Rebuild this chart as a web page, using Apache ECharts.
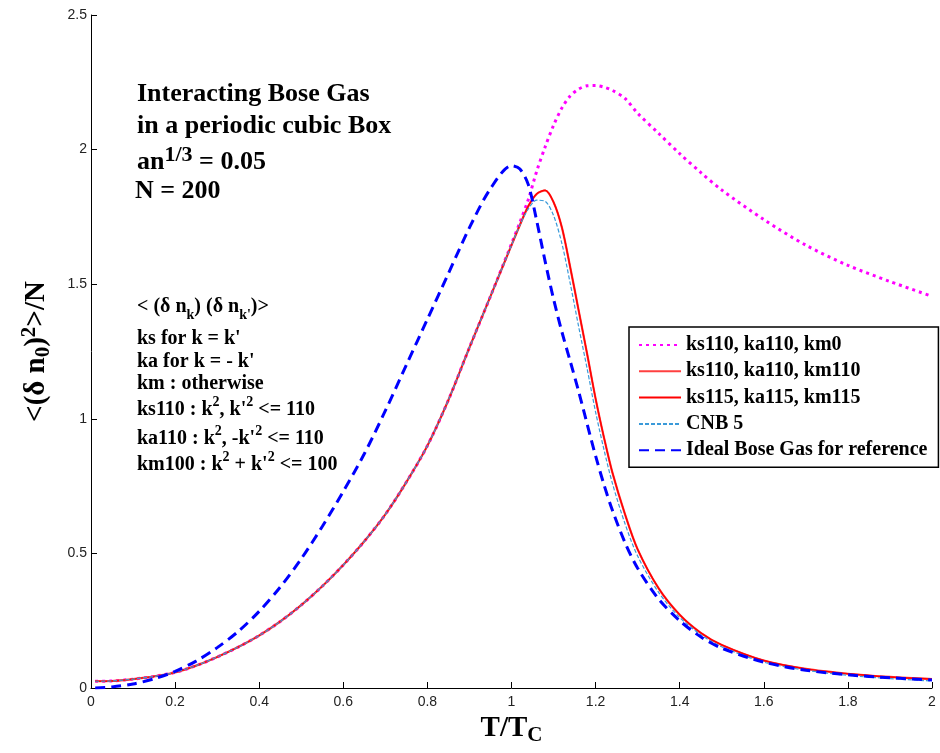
<!DOCTYPE html>
<html>
<head>
<meta charset="utf-8">
<script src="https://cdn.jsdelivr.net/npm/echarts@6/dist/echarts.min.js"></script>
<style>html,body{margin:0;padding:0;background:#fff}#main{width:940px;height:753px}</style>
</head>
<body>
<div id="main"></div>
<script>
// T/Tc sample points shared by all curves
const T = [0.01, 0.05, 0.1, 0.15, 0.2, 0.25, 0.3, 0.35, 0.4, 0.45, 0.5, 0.55, 0.6, 0.65, 0.7, 0.75, 0.8, 0.85, 0.9, 0.95,
  1.0, 1.02, 1.04, 1.06, 1.08, 1.1, 1.12, 1.14, 1.16, 1.18, 1.2, 1.22, 1.24, 1.27, 1.3, 1.35, 1.4, 1.45, 1.5, 1.6, 1.7, 1.8, 1.9, 2.0];

const km0 = [0.025, 0.026, 0.033, 0.043, 0.058, 0.083, 0.115, 0.152, 0.195, 0.247, 0.308, 0.378, 0.457, 0.545, 0.645, 0.765, 0.9, 1.07, 1.265, 1.455,
  1.65, 1.73, 1.815, 1.92, 2.01, 2.09, 2.155, 2.2, 2.225, 2.237, 2.238, 2.232, 2.22, 2.19, 2.135, 2.06, 1.985, 1.915, 1.85, 1.74, 1.645, 1.57, 1.51, 1.455];

const km110 = [0.025, 0.026, 0.033, 0.043, 0.058, 0.083, 0.115, 0.152, 0.195, 0.247, 0.308, 0.378, 0.457, 0.545, 0.645, 0.765, 0.9, 1.07, 1.265, 1.455,
  1.645, 1.72, 1.79, 1.835, 1.848, 1.805, 1.71, 1.56, 1.4, 1.24, 1.075, 0.93, 0.8, 0.645, 0.515, 0.37, 0.272, 0.205, 0.16, 0.102, 0.071, 0.053, 0.041, 0.033];

const km115 = [0.025, 0.026, 0.033, 0.043, 0.058, 0.083, 0.115, 0.152, 0.195, 0.247, 0.308, 0.378, 0.457, 0.545, 0.645, 0.765, 0.9, 1.07, 1.265, 1.455,
  1.645, 1.72, 1.79, 1.836, 1.849, 1.805, 1.71, 1.56, 1.4, 1.24, 1.075, 0.93, 0.8, 0.645, 0.515, 0.37, 0.272, 0.205, 0.16, 0.102, 0.071, 0.053, 0.041, 0.033];

const cnb5 = [0.025, 0.026, 0.033, 0.043, 0.058, 0.083, 0.115, 0.152, 0.195, 0.247, 0.308, 0.378, 0.457, 0.545, 0.645, 0.765, 0.9, 1.07, 1.265, 1.455,
  1.645, 1.72, 1.78, 1.812, 1.808, 1.755, 1.65, 1.5, 1.34, 1.185, 1.025, 0.885, 0.76, 0.61, 0.49, 0.355, 0.262, 0.198, 0.153, 0.096, 0.066, 0.047, 0.035, 0.026];

const ideal = [0.0, 0.004, 0.015, 0.034, 0.062, 0.1, 0.15, 0.21, 0.285, 0.375, 0.48, 0.6, 0.73, 0.87, 1.03, 1.2, 1.37, 1.54, 1.71, 1.855,
  1.94, 1.928, 1.87, 1.735, 1.585, 1.445, 1.322, 1.212, 1.1, 0.98, 0.862, 0.755, 0.66, 0.54, 0.445, 0.33, 0.25, 0.19, 0.148, 0.096, 0.066, 0.049, 0.038, 0.03];

const xTicks = [0, 0.2, 0.4, 0.6, 0.8, 1, 1.2, 1.4, 1.6, 1.8, 2];
const yTicks = [0, 0.5, 1, 1.5, 2, 2.5];

const serif = "'Liberation Serif', 'Times New Roman', serif";
const pairs = (ys) => T.map((t, i) => [t, ys[i]]);

let chartDom = document.getElementById('main');
let myChart = echarts.init(chartDom);

// bold serif annotation, y is the centre of the line
function note(text, x, y, size, supScale) {
  let small = Math.round(size * (supScale || 0.68));
  return {
    type: 'text', x: x, y: y,
    style: {
      text: text, fontFamily: serif, fontWeight: 'bold', fontSize: size, fill: '#000',
      align: 'left', verticalAlign: 'middle',
      rich: {
        b: {fontFamily: serif, fontWeight: 'bold', fontSize: size, lineHeight: size + 10, verticalAlign: 'middle'},
        sup: {fontFamily: serif, fontWeight: 'bold', fontSize: small, lineHeight: small, verticalAlign: 'top'},
        sub: {fontFamily: serif, fontWeight: 'bold', fontSize: small, lineHeight: small, verticalAlign: 'bottom'}
      }
    }
  };
}

let option = {
  animation: false,
  backgroundColor: '#fff',
  grid: {left: 91, right: 8, top: 15, bottom: 65},
  legend: {
    orient: 'vertical', left: 629, top: 327,
    padding: [8, 11, 7, 9], itemGap: 6.3, itemWidth: 42, itemHeight: 14,
    backgroundColor: '#fff', borderColor: '#000', borderWidth: 1.5, borderRadius: 0,
    itemStyle: {opacity: 0},
    textStyle: {fontFamily: serif, fontWeight: 'bold', fontSize: 20, lineHeight: 20, color: '#000'}
  },
  xAxis: {
    type: 'value', min: 0, max: 2, interval: 0.2,
    name: 'T/T{c|C}', nameLocation: 'middle', nameGap: 20,
    nameTextStyle: {fontFamily: serif, fontWeight: 'bold', fontSize: 29, color: '#000',
      rich: {c: {fontFamily: serif, fontWeight: 'bold', fontSize: 21, verticalAlign: 'bottom', padding: [14, 0, 0, 0]}}},
    axisLine: {lineStyle: {color: '#000', width: 1}},
    axisTick: {inside: true, length: 6, lineStyle: {color: '#000'}},
    axisLabel: {fontFamily: 'Liberation Sans, Arial, sans-serif', fontSize: 14, color: '#222', margin: 7,
      formatter: v => String(+v.toFixed(1))},
    splitLine: {show: false}
  },
  yAxis: {
    type: 'value', min: 0, max: 2.5, interval: 0.5,
    name: '<(δ n{s|0}){p|2}>/N', nameLocation: 'middle', nameGap: 37, nameRotate: 90,
    nameTextStyle: {fontFamily: serif, fontWeight: 'bold', fontSize: 29, color: '#000',
      rich: {
        s: {fontFamily: serif, fontWeight: 'bold', fontSize: 21, verticalAlign: 'bottom', padding: [14, 0, 0, 0]},
        p: {fontFamily: serif, fontWeight: 'bold', fontSize: 21, verticalAlign: 'top', padding: [0, 0, 14, 0]}
      }},
    axisLine: {show: true, lineStyle: {color: '#000', width: 1}},
    axisTick: {show: true, inside: true, length: 6, lineStyle: {color: '#000'}},
    axisLabel: {fontFamily: 'Liberation Sans, Arial, sans-serif', fontSize: 14, color: '#222', margin: 4},
    splitLine: {show: false}
  },
  graphic: [
    note('{b|Interacting Bose Gas}', 137, 94, 26),
    note('{b|in a periodic cubic Box}', 137, 126, 26),
    note('{b|an}{sup|1/3}{b| = 0.05}', 137, 162, 26, 0.85),
    note('{b|N = 200}', 135, 191, 26),
    note('{b|< (δ n}{sub|k}{b|) (δ n}{sub|k\'}{b|)>}', 137, 307, 20),
    note('{b|ks for k = k\'}', 137, 339, 20),
    note('{b|ka for k = - k\'}', 137, 362, 20),
    note('{b|km : otherwise}', 137, 384, 20),
    note('{b|ks110 : k}{sup|2}{b|, k\'}{sup|2}{b| <= 110}', 137, 410, 20),
    note('{b|ka110 : k}{sup|2}{b|, -k\'}{sup|2}{b| <= 110}', 137, 439, 20),
    note('{b|km100 : k}{sup|2}{b| + k\'}{sup|2}{b| <= 100}', 137, 465, 20)
  ],
  series: [
    {name: 'ks110, ka110, km0', type: 'line', data: pairs(km0), symbol: 'none', smooth: 0.3,
      lineStyle: {color: '#ff00ff', width: 3, type: [3, 4]}, itemStyle: {color: '#ff00ff'}},
    {name: 'ks110, ka110, km110', type: 'line', data: pairs(km110), symbol: 'none', smooth: 0.3,
      lineStyle: {color: '#ff4040', width: 2.2}, itemStyle: {color: '#ff4040'}},
    {name: 'ks115, ka115, km115', type: 'line', data: pairs(km115), symbol: 'none', smooth: 0.3,
      lineStyle: {color: '#ff0000', width: 1.4}, itemStyle: {color: '#ff0000'}},
    {name: 'CNB 5', type: 'line', data: pairs(cnb5), symbol: 'none', smooth: 0.3,
      lineStyle: {color: '#3a9ad9', width: 1.2, type: [4, 2]}, itemStyle: {color: '#3a9ad9'}},
    {name: 'Ideal Bose Gas for reference', type: 'line', data: pairs(ideal), symbol: 'none', smooth: 0.3,
      lineStyle: {color: '#0000ff', width: 3, type: [10, 6]}, itemStyle: {color: '#0000ff'}}
  ]
};

option && myChart.setOption(option);
</script>
</body>
</html>
